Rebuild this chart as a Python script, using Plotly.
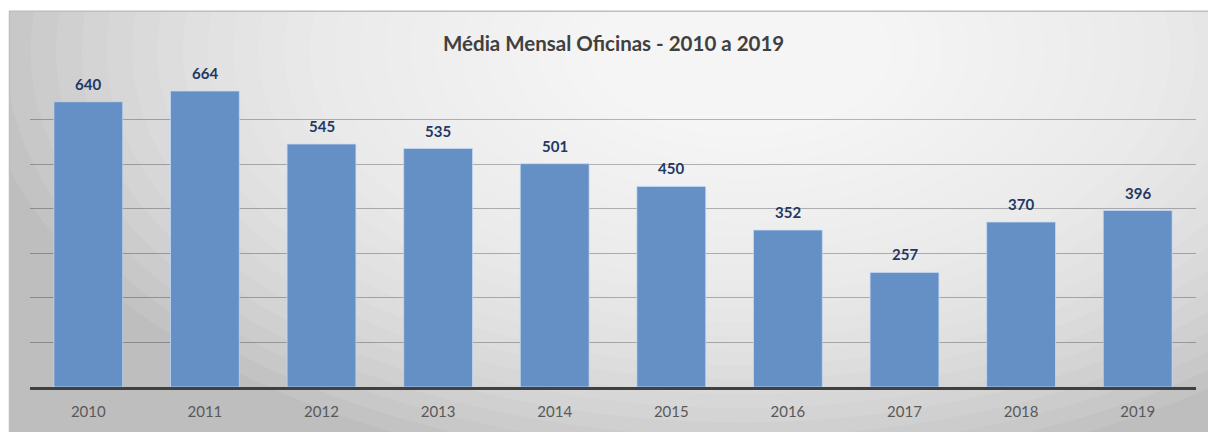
import plotly.graph_objects as go

years = ["2010", "2011", "2012", "2013", "2014", "2015", "2016", "2017", "2018", "2019"]
values = [640, 664, 545, 535, 501, 450, 352, 257, 370, 396]
title_text = "Média Mensal Oficinas - 2010 a 2019"

W, H = 1208, 432
ML, MR, MT, MB = 30, 12, 75, 37
PW, PH = W - ML - MR, H - MT - MB


def px(X):
    return (X - ML) / PW


def py(Y):
    return (H - MB - Y) / PH


shapes = []
# chart area box (gray base)
shapes.append(dict(type="rect", xref="paper", yref="paper", layer="below",
                   x0=px(9), x1=px(1230), y0=py(460), y1=py(9),
                   fillcolor="rgb(190,190,190)", line=dict(width=0)))
# radial gradient approximation
N = 30
cx, cy = 740, 50
for k in range(N, 0, -1):
    f = k / N
    rx, ry = 760 * f, 440 * f
    shapes.append(dict(type="circle", xref="paper", yref="paper", layer="below",
                       x0=px(cx - rx), x1=px(cx + rx), y0=py(cy + ry), y1=py(cy - ry),
                       fillcolor="white", opacity=0.085, line=dict(width=0)))
# white masks outside the box
shapes.append(dict(type="rect", xref="paper", yref="paper", layer="below",
                   x0=px(-400), x1=px(9), y0=py(900), y1=py(-400), fillcolor="white", line=dict(width=0)))
shapes.append(dict(type="rect", xref="paper", yref="paper", layer="below",
                   x0=px(-400), x1=px(1700), y0=py(9), y1=py(-400), fillcolor="white", line=dict(width=0)))
shapes.append(dict(type="line", xref="paper", yref="paper", layer="below",
                   x0=px(9), x1=px(1230), y0=py(9.5), y1=py(9.5), line=dict(color="rgb(190,190,190)", width=1.5)))
shapes.append(dict(type="line", xref="paper", yref="paper", layer="below",
                   x0=px(9.5), x1=px(9.5), y0=py(9), y1=py(460), line=dict(color="rgb(190,190,190)", width=1.5)))

fig = go.Figure()
fig.add_trace(go.Bar(
    x=years, y=values,
    marker=dict(color="rgb(101,144,198)", line=dict(color="rgba(200,220,245,0.7)", width=1)),
    hoverinfo="x+y",
))

annotations = []
for i, v in enumerate(values):
    annotations.append(dict(x=i, y=v, xref="x", yref="y", text=str(v), showarrow=False,
                            xanchor="center", yanchor="bottom", yshift=7,
                            font=dict(family="Lato", size=15, color="rgb(31,56,100)", weight="bold")))
annotations.append(dict(x=px(613), y=py(42), xref="paper", yref="paper", text=title_text,
                        showarrow=False, xanchor="center", yanchor="middle",
                        font=dict(family="Lato", size=20.5, color="rgb(64,64,64)", weight="bold")))

fig.update_layout(
    autosize=True,
    margin=dict(l=ML, r=MR, t=MT, b=MB),
    paper_bgcolor="white",
    plot_bgcolor="rgba(0,0,0,0)",
    bargap=0.41,
    showlegend=False,
    shapes=shapes,
    annotations=annotations,
    xaxis=dict(type="category", categoryorder="array", categoryarray=years,
               range=[-0.5, len(years) - 0.5], autorange=False,
               showline=True, linecolor="rgb(64,64,64)", linewidth=2.5,
               ticks="outside", ticklen=9, tickcolor="rgba(0,0,0,0)",
               tickfont=dict(family="Lato", size=15, color="rgb(89,89,89)"),
               showgrid=False, fixedrange=True),
    yaxis=dict(range=[0, 700], autorange=False, dtick=100, showgrid=True,
               gridcolor="rgba(0,0,0,0.27)", gridwidth=1,
               showticklabels=False, zeroline=False, showline=False, fixedrange=True),
)

fig.write_html("out.html", default_width="100vw", default_height="100vh",
               config={"responsive": True, "displayModeBar": False},
               post_script="document.body.style.margin='0';document.body.style.overflow='hidden';"
                           "window.dispatchEvent(new Event('resize'));")
